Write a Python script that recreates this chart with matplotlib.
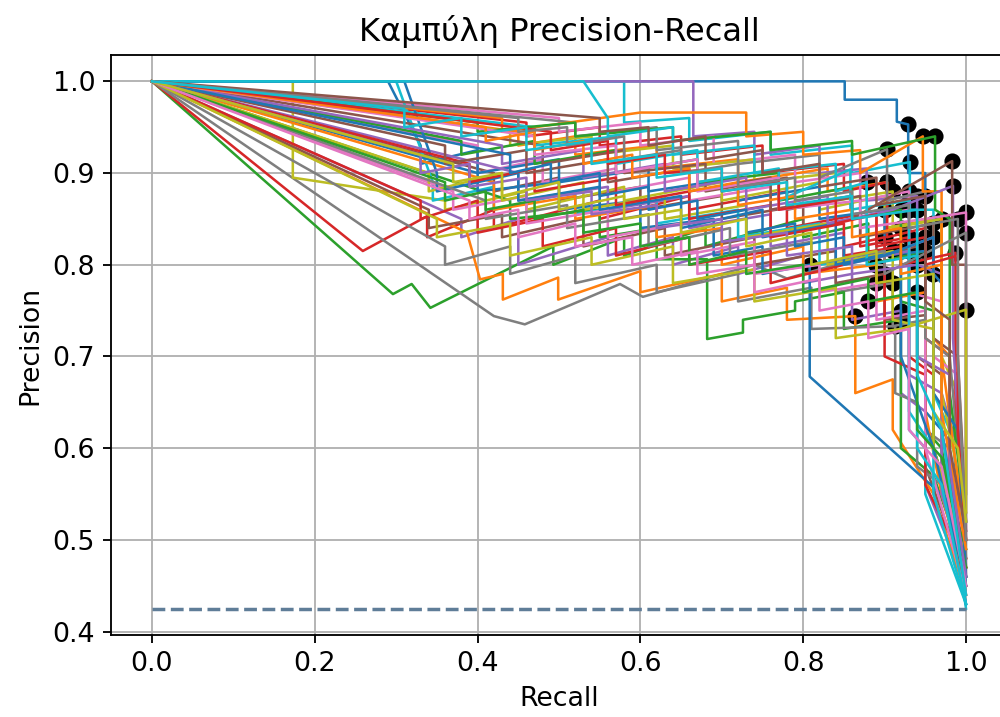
"""
Precision-Recall curves for every fold, with the best-F1 point of each one
and the no-skill baseline.
"""

import matplotlib
matplotlib.use("Agg")
import matplotlib.pyplot as plt

# (recall, precision) vertices of each fold's curve
c01 = [(0, 1), (0.851, 1.0), (0.851, 0.98), (0.915, 0.98), (0.915, 0.956), (0.929, 0.953), (0.929, 0.90),
       (0.95, 0.90), (0.95, 0.80), (0.97, 0.78), (0.97, 0.62), (0.985, 0.60), (1.0, 0.45)]
c02 = [(0, 1), (0.45, 0.945), (0.45, 0.93), (0.52, 0.94), (0.52, 0.92), (0.62, 0.93), (0.62, 0.905),
       (0.72, 0.915), (0.72, 0.89), (0.83, 0.905), (0.83, 0.88), (0.903, 0.89), (0.903, 0.84), (0.96, 0.85),
       (0.96, 0.72), (0.98, 0.70), (0.98, 0.58), (1.0, 0.47)]
c03 = [(0, 1), (0.296, 0.768), (0.319, 0.779), (0.342, 0.753), (0.493, 0.82), (0.493, 0.80), (0.58, 0.83),
       (0.58, 0.81), (0.68, 0.84), (0.68, 0.82), (0.80, 0.85), (0.80, 0.83), (0.88, 0.845), (0.88, 0.80),
       (0.95, 0.815), (0.95, 0.62), (0.97, 0.60), (1.0, 0.46)]
c04 = [(0, 1), (0.259, 0.815), (0.338, 0.853), (0.338, 0.83), (0.42, 0.86), (0.42, 0.84), (0.55, 0.87),
       (0.55, 0.85), (0.66, 0.875), (0.66, 0.86), (0.78, 0.88), (0.78, 0.84), (0.87, 0.855), (0.87, 0.82),
       (0.93, 0.83), (0.93, 0.70), (0.96, 0.68), (0.96, 0.60), (1.0, 0.48)]
c05 = [(0, 1), (0.38, 0.85), (0.38, 0.83), (0.45, 0.85), (0.45, 0.80), (0.56, 0.83), (0.56, 0.81),
       (0.64, 0.83), (0.64, 0.80), (0.72, 0.82), (0.72, 0.79), (0.80, 0.81), (0.80, 0.78), (0.86, 0.79),
       (0.86, 0.74), (0.92, 0.75), (0.92, 0.66), (0.95, 0.64), (0.95, 0.56), (1.0, 0.45)]
c06 = [(0, 1), (0.42, 0.90), (0.42, 0.88), (0.50, 0.895), (0.50, 0.87), (0.60, 0.885), (0.60, 0.86),
       (0.70, 0.875), (0.70, 0.85), (0.80, 0.865), (0.80, 0.84), (0.89, 0.855), (0.89, 0.81), (0.94, 0.82),
       (0.94, 0.70), (0.97, 0.68), (0.97, 0.58), (1.0, 0.50)]
c07 = [(0, 1), (0.40, 0.93), (0.40, 0.90), (0.48, 0.915), (0.48, 0.89), (0.57, 0.905), (0.57, 0.88),
       (0.66, 0.895), (0.66, 0.87), (0.76, 0.885), (0.76, 0.86), (0.86, 0.875), (0.86, 0.85), (0.93, 0.86),
       (0.93, 0.77), (0.97, 0.76), (0.97, 0.62), (1.0, 0.49)]
c08 = [(0, 1), (0.42, 0.744), (0.458, 0.735), (0.575, 0.779), (0.603, 0.765), (0.70, 0.79), (0.74, 0.80),
       (0.78, 0.785), (0.84, 0.80), (0.84, 0.77), (0.91, 0.78), (0.91, 0.733), (0.95, 0.74), (0.95, 0.62),
       (0.98, 0.60), (1.0, 0.44)]
c09 = [(0, 1), (0.173, 1.0), (0.173, 0.895), (0.36, 0.87), (0.36, 0.86), (0.46, 0.88), (0.46, 0.86),
       (0.58, 0.885), (0.58, 0.87), (0.70, 0.89), (0.70, 0.87), (0.82, 0.89), (0.82, 0.86), (0.90, 0.875),
       (0.90, 0.84), (0.97, 0.85), (0.97, 0.70), (0.99, 0.66), (1.0, 0.52)]
c10 = [(0, 1), (0.58, 1.0), (0.58, 0.955), (0.66, 0.96), (0.66, 0.935), (0.76, 0.945), (0.76, 0.92),
       (0.86, 0.93), (0.86, 0.90), (0.931, 0.912), (0.931, 0.86), (0.96, 0.86), (0.96, 0.66), (0.98, 0.62),
       (0.98, 0.55), (1.0, 0.425)]
c11 = [(0, 1), (0.29, 1.0), (0.33, 0.93), (0.33, 0.91), (0.40, 0.925), (0.40, 0.90), (0.50, 0.915),
       (0.50, 0.89), (0.61, 0.905), (0.61, 0.88), (0.72, 0.895), (0.72, 0.87), (0.82, 0.885), (0.82, 0.85),
       (0.90, 0.86), (0.90, 0.81), (0.95, 0.815), (0.95, 0.64), (0.97, 0.62), (1.0, 0.46)]
c12 = [(0, 1), (0.387, 0.835), (0.403, 0.784), (0.431, 0.79), (0.431, 0.762), (0.499, 0.786), (0.499, 0.762),
       (0.60, 0.793), (0.60, 0.77), (0.70, 0.79), (0.70, 0.76), (0.78, 0.775), (0.78, 0.74), (0.864, 0.744),
       (0.864, 0.66), (0.91, 0.675), (0.91, 0.62), (0.96, 0.55), (1.0, 0.44)]
c13 = [(0, 1), (0.44, 0.87), (0.44, 0.85), (0.55, 0.86), (0.55, 0.83), (0.62, 0.84), (0.62, 0.806),
       (0.682, 0.806), (0.682, 0.719), (0.726, 0.726), (0.726, 0.74), (0.79, 0.75), (0.79, 0.76), (0.85, 0.77),
       (0.85, 0.73), (0.92, 0.74), (0.92, 0.60), (0.96, 0.57), (1.0, 0.47)]
c14 = [(0, 1), (0.46, 0.955), (0.46, 0.94), (0.55, 0.95), (0.55, 0.93), (0.65, 0.94), (0.65, 0.92),
       (0.75, 0.93), (0.75, 0.90), (0.85, 0.91), (0.85, 0.88), (0.903, 0.89), (0.903, 0.83), (0.95, 0.84),
       (0.95, 0.72), (0.98, 0.70), (0.98, 0.56), (1.0, 0.48)]
c15 = [(0, 1), (0.665, 1.0), (0.665, 0.94), (0.74, 0.945), (0.74, 0.92), (0.82, 0.93), (0.82, 0.90),
       (0.878, 0.905), (0.878, 0.87), (0.94, 0.875), (0.94, 0.80), (0.97, 0.79), (0.97, 0.66), (0.99, 0.60),
       (1.0, 0.50)]
c16 = [(0, 1), (0.34, 0.86), (0.34, 0.84), (0.43, 0.855), (0.43, 0.83), (0.53, 0.85), (0.53, 0.82),
       (0.63, 0.84), (0.63, 0.81), (0.74, 0.83), (0.74, 0.80), (0.84, 0.815), (0.84, 0.78), (0.90, 0.79),
       (0.90, 0.74), (0.95, 0.745), (0.95, 0.58), (1.0, 0.46)]
c17 = [(0, 1), (0.50, 0.96), (0.50, 0.945), (0.60, 0.955), (0.60, 0.93), (0.69, 0.94), (0.69, 0.91),
       (0.79, 0.92), (0.79, 0.89), (0.87, 0.90), (0.87, 0.87), (0.93, 0.88), (0.93, 0.82), (0.96, 0.83),
       (0.96, 0.70), (0.99, 0.68), (1.0, 0.51)]
c18 = [(0, 1), (0.36, 0.82), (0.36, 0.80), (0.44, 0.82), (0.44, 0.79), (0.52, 0.81), (0.52, 0.78),
       (0.62, 0.80), (0.62, 0.77), (0.72, 0.79), (0.72, 0.76), (0.81, 0.775), (0.81, 0.73), (0.913, 0.733),
       (0.913, 0.66), (0.94, 0.65), (0.94, 0.58), (0.97, 0.56), (1.0, 0.45)]
c19 = [(0, 1), (0.44, 0.945), (0.44, 0.93), (0.54, 0.94), (0.54, 0.92), (0.64, 0.93), (0.64, 0.905),
       (0.74, 0.915), (0.74, 0.89), (0.84, 0.90), (0.84, 0.87), (0.91, 0.88), (0.91, 0.84), (0.97, 0.85),
       (0.97, 0.66), (1.0, 0.53)]
c20 = [(0, 1), (0.30, 1.0), (0.345, 0.89), (0.345, 0.87), (0.42, 0.885), (0.42, 0.86), (0.52, 0.88),
       (0.52, 0.855), (0.62, 0.87), (0.62, 0.845), (0.72, 0.86), (0.72, 0.83), (0.82, 0.845), (0.82, 0.80),
       (0.93, 0.815), (0.93, 0.62), (0.95, 0.60), (0.95, 0.55), (1.0, 0.43)]
c21 = [(0, 1), (0.40, 0.90), (0.40, 0.88), (0.50, 0.89), (0.50, 0.86), (0.60, 0.87), (0.60, 0.84),
       (0.69, 0.85), (0.69, 0.81), (0.75, 0.82), (0.75, 0.79), (0.808, 0.80), (0.808, 0.678),
       (0.977, 0.544), (1.0, 0.43)]
c22 = [(0, 1), (0.42, 0.89), (0.42, 0.86), (0.52, 0.875), (0.52, 0.85), (0.62, 0.865), (0.62, 0.83),
       (0.70, 0.84), (0.70, 0.80), (0.80, 0.82), (0.80, 0.79), (0.89, 0.80), (0.89, 0.76), (0.95, 0.77),
       (0.95, 0.64), (0.97, 0.55), (1.0, 0.45)]
c23 = [(0, 1), (0.38, 0.935), (0.38, 0.92), (0.47, 0.935), (0.47, 0.91), (0.57, 0.925), (0.57, 0.90),
       (0.67, 0.915), (0.67, 0.89), (0.77, 0.90), (0.77, 0.87), (0.86, 0.885), (0.86, 0.85), (0.92, 0.86),
       (0.92, 0.76), (0.96, 0.75), (0.96, 0.60), (1.0, 0.49)]
c24 = [(0, 1), (0.33, 0.87), (0.33, 0.85), (0.40, 0.87), (0.40, 0.835), (0.48, 0.85), (0.48, 0.82),
       (0.57, 0.84), (0.57, 0.81), (0.66, 0.83), (0.66, 0.80), (0.76, 0.815), (0.76, 0.78), (0.85, 0.80),
       (0.85, 0.82), (0.90, 0.83), (0.90, 0.70), (0.95, 0.68), (0.95, 0.56), (1.0, 0.47)]
c25 = [(0, 1), (0.45, 0.90), (0.45, 0.87), (0.56, 0.885), (0.56, 0.86), (0.66, 0.875), (0.66, 0.84),
       (0.76, 0.855), (0.76, 0.82), (0.85, 0.835), (0.85, 0.80), (0.93, 0.815), (0.93, 0.68), (0.97, 0.66),
       (0.97, 0.55), (1.0, 0.46)]
c26 = [(0, 1), (0.48, 0.93), (0.48, 0.91), (0.58, 0.925), (0.58, 0.90), (0.68, 0.91), (0.68, 0.88),
       (0.78, 0.895), (0.78, 0.86), (0.87, 0.875), (0.87, 0.83), (0.96, 0.845), (0.96, 0.72), (0.99, 0.70),
       (1.0, 0.52)]
c27 = [(0, 1), (0.37, 0.88), (0.37, 0.86), (0.46, 0.875), (0.46, 0.845), (0.56, 0.86), (0.56, 0.83),
       (0.65, 0.845), (0.65, 0.81), (0.74, 0.825), (0.74, 0.79), (0.82, 0.80), (0.82, 0.77), (0.89, 0.78),
       (0.89, 0.74), (0.95, 0.75), (0.95, 0.60), (1.0, 0.44)]
c28 = [(0, 1), (0.52, 0.955), (0.52, 0.94), (0.62, 0.95), (0.62, 0.925), (0.72, 0.935), (0.72, 0.91),
       (0.82, 0.92), (0.82, 0.895), (0.903, 0.926), (0.903, 0.87), (0.95, 0.88), (0.95, 0.72), (0.98, 0.70),
       (1.0, 0.50)]
c29 = [(0, 1), (0.34, 0.90), (0.34, 0.88), (0.43, 0.90), (0.43, 0.87), (0.53, 0.89), (0.53, 0.86),
       (0.63, 0.875), (0.63, 0.85), (0.73, 0.865), (0.73, 0.83), (0.83, 0.845), (0.83, 0.80), (0.91, 0.815),
       (0.91, 0.74), (0.96, 0.73), (0.96, 0.60), (1.0, 0.48)]
c30 = [(0, 1), (0.47, 0.95), (0.47, 0.93), (0.57, 0.94), (0.57, 0.91), (0.67, 0.925), (0.67, 0.89),
       (0.77, 0.905), (0.77, 0.87), (0.858, 0.904), (0.858, 0.86), (0.93, 0.87), (0.93, 0.64), (0.96, 0.60),
       (0.96, 0.55), (1.0, 0.43)]
c31 = [(0, 1), (0.31, 1.0), (0.35, 0.90), (0.35, 0.88), (0.45, 0.90), (0.45, 0.87), (0.55, 0.885),
       (0.55, 0.86), (0.65, 0.875), (0.65, 0.84), (0.75, 0.86), (0.75, 0.83), (0.84, 0.845), (0.84, 0.80),
       (0.92, 0.815), (0.92, 0.70), (0.96, 0.60), (1.0, 0.45)]
c32 = [(0, 1), (0.43, 0.96), (0.43, 0.945), (0.60, 0.966), (0.73, 0.966), (0.73, 0.94), (0.80, 0.945),
       (0.80, 0.92), (0.87, 0.925), (0.87, 0.90), (0.947, 0.94), (0.947, 0.88), (0.97, 0.88), (0.97, 0.70),
       (1.0, 0.50)]
c33 = [(0, 1), (0.40, 0.955), (0.40, 0.945), (0.52, 0.955), (0.52, 0.94), (0.64, 0.95), (0.64, 0.935),
       (0.76, 0.945), (0.76, 0.925), (0.86, 0.935), (0.86, 0.92), (0.962, 0.94), (0.962, 0.86), (0.98, 0.85),
       (0.98, 0.66), (1.0, 0.52)]
c34 = [(0, 1), (0.39, 0.91), (0.39, 0.89), (0.47, 0.905), (0.47, 0.88), (0.57, 0.895), (0.57, 0.865),
       (0.66, 0.88), (0.66, 0.85), (0.76, 0.865), (0.76, 0.83), (0.85, 0.845), (0.85, 0.81), (0.92, 0.82),
       (0.92, 0.80), (0.987, 0.813), (0.987, 0.66), (1.0, 0.47)]
c35 = [(0, 1), (0.43, 0.93), (0.43, 0.91), (0.53, 0.925), (0.53, 0.895), (0.63, 0.91), (0.63, 0.88),
       (0.73, 0.895), (0.73, 0.86), (0.83, 0.875), (0.83, 0.845), (0.91, 0.86), (0.984, 0.886), (0.984, 0.72),
       (1.0, 0.48)]
c36 = [(0, 1), (0.36, 0.93), (0.36, 0.91), (0.46, 0.925), (0.46, 0.90), (0.56, 0.915), (0.56, 0.89),
       (0.66, 0.905), (0.66, 0.88), (0.76, 0.895), (0.76, 0.86), (0.86, 0.875), (0.86, 0.85), (0.983, 0.913),
       (0.983, 0.80), (1.0, 0.80), (1.0, 0.55)]
c37 = [(0, 1), (0.47, 0.94), (0.47, 0.92), (0.57, 0.93), (0.57, 0.90), (0.67, 0.915), (0.67, 0.88),
       (0.77, 0.895), (0.77, 0.86), (0.87, 0.87), (0.87, 0.84), (0.95, 0.85), (1.0, 0.857), (1.0, 0.50)]
c38 = [(0, 1), (0.41, 0.87), (0.41, 0.85), (0.51, 0.865), (0.51, 0.84), (0.61, 0.855), (0.61, 0.82),
       (0.71, 0.84), (0.71, 0.81), (0.81, 0.825), (0.81, 0.80), (0.90, 0.815), (0.90, 0.79), (1.0, 0.835),
       (1.0, 0.46)]
c39 = [(0, 1), (0.35, 0.85), (0.35, 0.83), (0.44, 0.845), (0.44, 0.81), (0.54, 0.83), (0.54, 0.80),
       (0.64, 0.82), (0.64, 0.78), (0.74, 0.795), (0.74, 0.76), (0.84, 0.775), (0.84, 0.72), (0.92, 0.73),
       (1.0, 0.751), (1.0, 0.53)]
c40 = [(0, 1), (0.53, 1.0), (0.56, 0.96), (0.56, 0.94), (0.64, 0.95), (0.64, 0.92), (0.74, 0.93),
       (0.74, 0.90), (0.84, 0.91), (0.84, 0.88), (0.878, 0.89), (0.878, 0.80), (0.94, 0.81), (0.94, 0.60),
       (0.97, 0.56), (1.0, 0.43)]
c41 = [(0, 1), (0.44, 0.92), (0.44, 0.90), (0.49, 0.91), (0.49, 0.89), (0.55, 0.90), (0.55, 0.875),
       (0.61, 0.885), (0.61, 0.86), (0.67, 0.87), (0.67, 0.85), (0.73, 0.86), (0.73, 0.835), (0.79, 0.845),
       (0.79, 0.82), (0.85, 0.83), (0.85, 0.80), (0.90, 0.81), (0.96, 0.83), (0.96, 0.66), (0.99, 0.62),
       (1.0, 0.46)]
c42 = [(0, 1), (0.41, 0.95), (0.41, 0.935), (0.47, 0.945), (0.47, 0.925), (0.53, 0.935), (0.53, 0.91),
       (0.59, 0.92), (0.59, 0.895), (0.66, 0.905), (0.66, 0.88), (0.72, 0.89), (0.72, 0.865), (0.79, 0.875),
       (0.79, 0.85), (0.86, 0.86), (0.86, 0.83), (0.92, 0.84), (0.92, 0.79), (0.97, 0.80), (0.97, 0.64),
       (1.0, 0.49)]
c43 = [(0, 1), (0.36, 0.89), (0.36, 0.87), (0.41, 0.88), (0.41, 0.86), (0.47, 0.87), (0.47, 0.85),
       (0.53, 0.86), (0.53, 0.835), (0.60, 0.845), (0.60, 0.82), (0.66, 0.83), (0.66, 0.80), (0.73, 0.815),
       (0.73, 0.79), (0.80, 0.80), (0.80, 0.77), (0.88, 0.785), (0.88, 0.76), (0.94, 0.77), (0.94, 0.62),
       (0.97, 0.59), (1.0, 0.47)]
c44 = [(0, 1), (0.49, 0.945), (0.49, 0.925), (0.56, 0.935), (0.56, 0.91), (0.63, 0.92), (0.63, 0.90),
       (0.70, 0.905), (0.70, 0.88), (0.77, 0.89), (0.77, 0.86), (0.84, 0.87), (0.84, 0.845), (0.89, 0.855),
       (0.89, 0.82), (0.95, 0.83), (0.95, 0.80), (0.99, 0.81), (0.99, 0.62), (1.0, 0.50)]
c45 = [(0, 1), (0.33, 0.92), (0.33, 0.90), (0.39, 0.91), (0.39, 0.885), (0.46, 0.895), (0.46, 0.87),
       (0.54, 0.88), (0.54, 0.855), (0.62, 0.865), (0.62, 0.84), (0.70, 0.85), (0.70, 0.825), (0.78, 0.835),
       (0.78, 0.81), (0.86, 0.82), (0.86, 0.79), (0.94, 0.80), (0.94, 0.70), (0.98, 0.68), (0.98, 0.58),
       (1.0, 0.46)]
c46 = [(0, 1), (0.55, 0.96), (0.55, 0.945), (0.61, 0.95), (0.61, 0.93), (0.68, 0.94), (0.68, 0.915),
       (0.75, 0.925), (0.75, 0.90), (0.82, 0.91), (0.82, 0.885), (0.89, 0.895), (0.89, 0.865), (0.95, 0.875),
       (0.95, 0.76), (0.98, 0.74), (0.98, 0.60), (1.0, 0.51)]
c47 = [(0, 1), (0.39, 0.87), (0.39, 0.85), (0.45, 0.86), (0.45, 0.83), (0.52, 0.845), (0.52, 0.82),
       (0.59, 0.83), (0.59, 0.80), (0.67, 0.815), (0.67, 0.79), (0.74, 0.80), (0.74, 0.77), (0.82, 0.785),
       (0.82, 0.75), (0.88, 0.76), (0.88, 0.72), (0.93, 0.73), (0.93, 0.62), (0.97, 0.58), (1.0, 0.45)]
c48 = [(0, 1), (0.45, 0.96), (0.45, 0.945), (0.51, 0.95), (0.51, 0.93), (0.58, 0.94), (0.58, 0.915),
       (0.65, 0.925), (0.65, 0.90), (0.72, 0.91), (0.72, 0.885), (0.79, 0.895), (0.79, 0.87), (0.86, 0.88),
       (0.86, 0.855), (0.93, 0.865), (0.93, 0.84), (0.99, 0.85), (0.99, 0.70), (1.0, 0.50)]
c49 = [(0, 1), (0.37, 0.91), (0.37, 0.89), (0.43, 0.90), (0.43, 0.875), (0.50, 0.89), (0.50, 0.86),
       (0.58, 0.875), (0.58, 0.85), (0.65, 0.86), (0.65, 0.835), (0.73, 0.85), (0.73, 0.82), (0.81, 0.835),
       (0.81, 0.80), (0.89, 0.815), (0.89, 0.78), (0.96, 0.79), (0.96, 0.64), (0.99, 0.60), (1.0, 0.52)]
c50 = [(0, 1), (0.31, 0.97), (0.31, 0.95), (0.38, 0.96), (0.38, 0.94), (0.46, 0.95), (0.46, 0.925),
       (0.54, 0.935), (0.54, 0.91), (0.62, 0.92), (0.62, 0.895), (0.70, 0.905), (0.70, 0.88), (0.78, 0.89),
       (0.78, 0.865), (0.86, 0.875), (0.86, 0.85), (0.94, 0.86), (0.94, 0.68), (0.97, 0.62), (1.0, 0.44)]

curves = [c01, c02, c03, c04, c05, c06, c07, c08, c09, c10,
          c11, c12, c13, c14, c15, c16, c17, c18, c19, c20,
          c21, c22, c23, c24, c25, c26, c27, c28, c29, c30,
          c31, c32, c33, c34, c35, c36, c37, c38, c39, c40,
          c41, c42, c43, c44, c45, c46, c47, c48, c49, c50]

# threshold with the highest F1 on each curve
best_recall = [0.929, 0.903, 0.95, 0.93, 0.92, 0.94, 0.93, 0.91, 0.97, 0.931,
               0.90, 0.864, 0.92, 0.903, 0.94, 0.90, 0.93, 0.913, 0.91, 0.93,
               0.808, 0.89, 0.92, 0.90, 0.93, 0.96, 0.89, 0.903, 0.91, 0.93,
               0.92, 0.947, 0.962, 0.987, 0.984, 0.983, 1.0, 1.0, 1.0, 0.878,
               0.96, 0.92, 0.94, 0.95, 0.94, 0.95, 0.88, 0.99, 0.96, 0.94]
best_precision = [0.953, 0.89, 0.815, 0.83, 0.75, 0.82, 0.86, 0.78, 0.85, 0.912,
                  0.86, 0.744, 0.74, 0.89, 0.875, 0.79, 0.88, 0.733, 0.88, 0.815,
                  0.80, 0.80, 0.86, 0.83, 0.815, 0.845, 0.78, 0.926, 0.815, 0.87,
                  0.815, 0.94, 0.94, 0.813, 0.886, 0.913, 0.857, 0.835, 0.751, 0.89,
                  0.83, 0.84, 0.77, 0.83, 0.80, 0.875, 0.76, 0.85, 0.79, 0.86]

# share of positives = precision of a random classifier
baseline = 0.425

dpi = 166
plt.rcParams["font.size"] = 11.6
fig = plt.figure(figsize=(1000 / dpi, 717 / dpi), dpi=dpi)
ax = fig.add_axes([0.1113, 0.1144, 0.8954, 0.8089])

for curve, br, bp in zip(curves, best_recall, best_precision):
    rec = [pt[0] for pt in curve]
    prec = [pt[1] for pt in curve]
    ax.plot(rec, prec, lw=1.1)
    # best-F1 markers sit under the curves
    ax.plot(br, bp, "ko", markersize=6, zorder=1.5)

ax.plot([0, 1], [baseline, baseline], "--", color="#5f7d98", lw=1.5)

ax.set_xlim(-0.05, 1.05)
ax.set_ylim(0.39625, 1.02875)
ax.set_xlabel("Recall")
ax.set_ylabel("Precision")
ax.set_title("Καμπύλη Precision-Recall")
ax.grid(True)

fig.savefig("out.png", dpi=dpi)
